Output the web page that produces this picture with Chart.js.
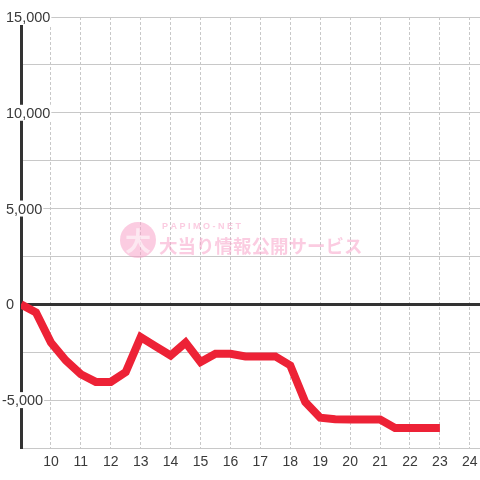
<!DOCTYPE html>
<html>
<head>
<meta charset="utf-8">
<script src="https://cdn.jsdelivr.net/npm/chart.js@4"></script>
<style>
  html, body { margin: 0; padding: 0; background: #fff; }
  canvas { display: block; }
</style>
</head>
<body>
<canvas id="chart" width="480" height="480"></canvas>
<script>
// ── DATA ──────────────────────────────────────────────────────────────────────
const HOURS = [9, 9.5, 10, 10.5, 11, 11.5, 12, 12.5, 13, 13.5, 14, 14.5, 15, 15.5,
  16, 16.5, 17, 17.5, 18, 18.5, 19, 19.5, 20, 20.5, 21, 21.5, 22, 22.5, 23];
const BALANCE = [0, -420, -2000, -2930, -3650, -4050, -4050, -3540, -1710, -2200,
  -2670, -2000, -3010, -2580, -2580, -2720, -2720, -2720, -3190, -5100,
  -5920, -6000, -6010, -6010, -6010, -6450, -6450, -6450, -6450];
const Y_LABELS = [15000, 10000, 5000, 0, -5000];
const X_LABELS = [10, 11, 12, 13, 14, 15, 16, 17, 18, 19, 20, 21, 22, 23, 24];

const FONT = '"Liberation Sans", Arial, sans-serif';
const fmt = v => v.toLocaleString('en-US');

// ── PLUGINS ───────────────────────────────────────────────────────────────────

// faint pink watermark, under the line
const watermark = {
  id: 'watermark',
  beforeDatasetsDraw(chart) {
    const ctx = chart.ctx;
    ctx.save();
    ctx.globalAlpha = 0.55;
    ctx.fillStyle = '#f7a3c8';
    ctx.beginPath();
    ctx.arc(138, 240, 18, 0, Math.PI * 2);
    ctx.fill();
    ctx.fillStyle = '#fff';
    ctx.font = 'bold 26px "Noto Sans CJK JP"';
    ctx.textAlign = 'center';
    ctx.textBaseline = 'middle';
    ctx.fillText('大', 138, 241);
    ctx.fillStyle = '#f7a3c8';
    ctx.textAlign = 'left';
    ctx.font = 'bold 9px ' + FONT;
    ctx.fillText('P A P I M O - N E T', 162, 227);
    ctx.font = 'bold 18.5px "Noto Sans CJK JP"';
    ctx.fillText('大当り情報公開サービス', 159, 246);
    ctx.restore();
  }
};

// tick labels drawn on top with a white box, like the original
const tickLabels = {
  id: 'tickLabels',
  afterDraw(chart) {
    const ctx = chart.ctx;
    const ys = chart.scales.y, xs = chart.scales.x;
    ctx.save();
    ctx.font = '14.5px ' + FONT;
    ctx.textBaseline = 'middle';
    ctx.textAlign = 'left';
    Y_LABELS.forEach(v => {
      const t = fmt(v);
      const y = ys.getPixelForValue(v);
      const w = ctx.measureText(t).width;
      const left = v < 0 ? 2 : 6;
      ctx.fillStyle = '#fff';
      ctx.fillRect(left - 1, y - 8, w + 2, 16);
      ctx.fillStyle = '#3a3a3a';
      ctx.fillText(t, left, y + 1);
    });
    ctx.font = '14px ' + FONT;
    ctx.textAlign = 'center';
    ctx.fillStyle = '#3a3a3a';
    X_LABELS.forEach(h => {
      ctx.fillText(String(h), xs.getPixelForValue(h), 462);
    });
    ctx.restore();
  }
};

// ── CHART ─────────────────────────────────────────────────────────────────────
new Chart(document.getElementById('chart'), {
  type: 'line',
  data: {
    datasets: [{
      data: HOURS.map((h, i) => ({ x: h, y: BALANCE[i] })),
      borderColor: '#ed2236',
      borderWidth: 8,
      pointRadius: 0,
      tension: 0,
      borderJoinStyle: 'miter',
      fill: false
    }]
  },
  options: {
    responsive: false,
    animation: false,
    // chart.js keeps ~5px on the right, pull it back to the edge
    layout: { padding: { left: 21, right: -5, top: 17, bottom: 32 } },
    plugins: { legend: { display: false }, tooltip: { enabled: false } },
    scales: {
      x: {
        type: 'linear',
        min: 9,
        max: 24.34,
        // one grid line per hour
        afterBuildTicks: s => { s.ticks = [9].concat(X_LABELS).map(v => ({ value: v })); },
        ticks: { display: false },
        grid: { color: '#c8c8c8', lineWidth: 1, drawTicks: false },
        border: { display: false, dash: [3, 2] }
      },
      y: {
        min: -7500,
        max: 15000,
        ticks: { display: false, stepSize: 2500 },
        grid: {
          drawTicks: false,
          color: c => c.tick && c.tick.value === 0 ? '#333' : '#c8c8c8',
          lineWidth: c => c.tick && c.tick.value === 0 ? 3 : 1
        },
        border: { display: true, color: '#333', width: 3 }
      }
    }
  },
  plugins: [watermark, tickLabels]
});
</script>
</body>
</html>
